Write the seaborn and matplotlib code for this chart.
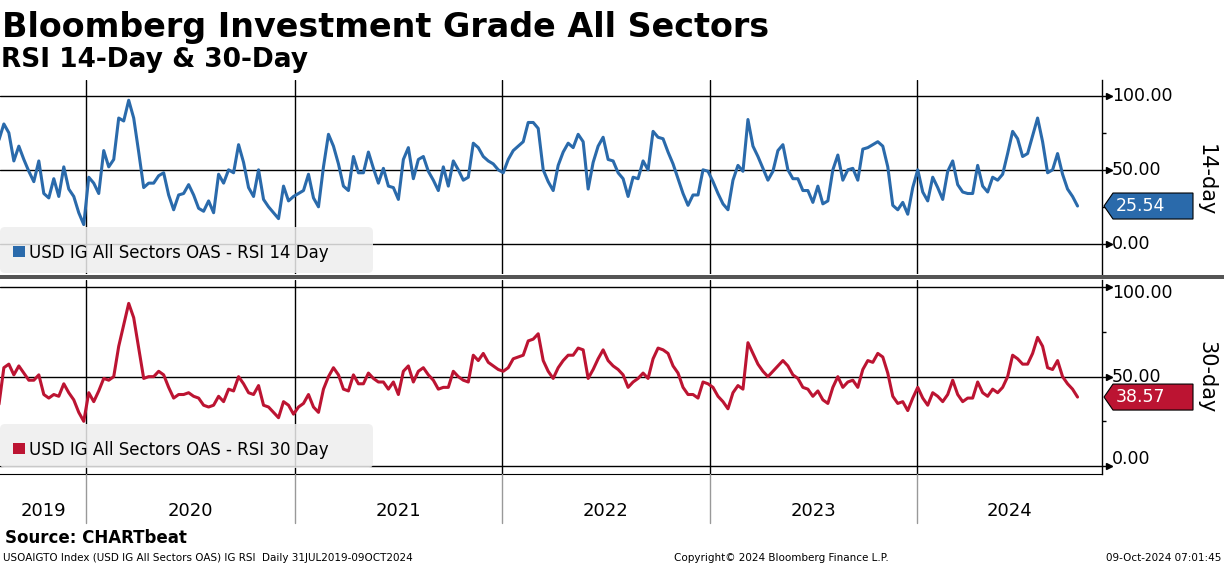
import matplotlib
matplotlib.use("Agg")
import matplotlib.pyplot as plt
import matplotlib.dates as mdates
import matplotlib.transforms as mtransforms
from matplotlib.patches import Rectangle, Polygon, FancyBboxPatch
from matplotlib.lines import Line2D
import pandas as pd
import seaborn as sns

# RSI values, evenly spaced from 31-Jul-2019 to 09-Oct-2024
rsi14 = [70, 81, 75, 56, 66, 57, 49, 42, 56, 34, 31, 44, 32, 52, 37, 32, 21, 13, 45, 41,
         34, 63, 52, 57, 85, 83, 97, 85, 62, 38, 41, 41, 46, 48, 33, 23, 33, 34, 40, 33,
         24, 22, 29, 21, 47, 41, 50, 48, 67, 55, 38, 32, 50, 30, 25, 21, 17, 39, 29, 32,
         34, 36, 47, 31, 25, 52, 74, 66, 54, 39, 36, 59, 48, 48, 62, 51, 41, 51, 39, 38,
         30, 57, 65, 44, 57, 59, 49, 43, 36, 52, 39, 56, 50, 43, 45, 68, 65, 59, 56, 54,
         50, 48, 57, 63, 66, 69, 82, 82, 78, 50, 42, 36, 53, 62, 68, 65, 74, 69, 37, 55,
         66, 72, 57, 56, 48, 44, 32, 45, 44, 56, 50, 76, 72, 71, 62, 54, 44, 34, 26, 33,
         33, 50, 49, 42, 34, 27, 23, 43, 53, 49, 84, 66, 59, 51, 43, 49, 63, 67, 50, 44,
         44, 36, 36, 28, 39, 27, 29, 50, 60, 43, 50, 51, 43, 64, 65, 67, 69, 66, 52, 26,
         23, 28, 20, 38, 50, 35, 29, 45, 38, 30, 49, 56, 40, 35, 34, 34, 53, 39, 35, 45,
         43, 47, 61, 76, 71, 59, 61, 73, 85, 69, 48, 50, 61, 47, 37, 32, 25.54]

rsi30 = [34, 55, 57, 51, 56, 52, 48, 48, 51, 40, 38, 40, 39, 46, 41, 37, 30, 25, 41, 36,
         42, 49, 48, 50, 67, 79, 91, 83, 66, 49, 50, 50, 53, 51, 44, 38, 40, 40, 41, 39,
         38, 34, 33, 34, 39, 36, 43, 42, 50, 46, 41, 40, 45, 34, 33, 30, 27, 36, 34, 29,
         33, 35, 40, 33, 30, 43, 50, 55, 51, 43, 42, 51, 46, 46, 52, 49, 47, 47, 43, 47,
         40, 53, 56, 47, 53, 55, 51, 48, 43, 44, 44, 53, 50, 48, 47, 62, 59, 63, 58, 56,
         54, 53, 55, 60, 61, 62, 70, 71, 74, 59, 53, 49, 55, 59, 62, 62, 66, 65, 49, 54,
         60, 65, 59, 56, 54, 51, 44, 47, 49, 52, 49, 60, 66, 65, 63, 56, 52, 44, 40, 40,
         38, 47, 46, 44, 39, 36, 32, 41, 45, 43, 69, 63, 57, 53, 50, 53, 56, 59, 56, 51,
         49, 44, 43, 39, 42, 37, 35, 44, 50, 44, 47, 48, 44, 54, 59, 58, 63, 61, 52, 39,
         35, 36, 31, 38, 44, 38, 34, 41, 39, 36, 40, 48, 40, 36, 38, 38, 47, 41, 39, 43,
         41, 44, 50, 62, 60, 57, 57, 63, 72, 67, 55, 54, 59, 50, 46, 43, 38.57]

years = [2019, 2020, 2021, 2022, 2023, 2024]
yticks = [0, 50, 100]

df = pd.DataFrame({
    "date": pd.date_range("2019-07-31", "2024-10-09", periods=len(rsi14)),
    "rsi14": rsi14,
    "rsi30": rsi30,
})

BLUE = "#2a6aab"
RED = "#bc1432"

sns.set_style("white")
plt.rcParams["font.family"] = ["DejaVu Sans"]
plt.rcParams["text.color"] = "black"
plt.rcParams["xtick.color"] = "black"
plt.rcParams["ytick.color"] = "black"

W, H = 1224, 566
fig = plt.figure(figsize=(W / 100, H / 100), dpi=100)
# pixel coords measured from the top-left corner
px = mtransforms.Affine2D().scale(0.01, -0.01).translate(0, H / 100) + fig.dpi_scale_trans

x_left = pd.Timestamp("2019-08-02")
x_right = pd.Timestamp("2024-11-21")

ax1 = fig.add_axes([0, 1 - 274 / H, 1102 / W, 194 / H])
ax2 = fig.add_axes([0, 1 - 474 / H, 1102 / W, 194 / H])


def draw_panel(ax, col, color, ylim, legend_text, legend_top, legend_bottom, tag, tag_y,
               label_shift):
    sns.lineplot(data=df, x="date", y=col, ax=ax, color=color, linewidth=2.2, zorder=4)
    ax.set_xlim(x_left, x_right)
    ax.set_ylim(*ylim)
    ax.set_xlabel("")
    ax.set_ylabel("")

    for side in ["top", "left", "bottom"]:
        ax.spines[side].set_visible(False)
    ax.spines["right"].set_color("black")
    ax.spines["right"].set_linewidth(1)

    ax.yaxis.tick_right()
    ax.set_yticks(yticks)
    ax.set_yticks([25, 75], minor=True)
    ax.tick_params(axis="y", which="major", length=7, width=1, color="black",
                   direction="out", labelright=False)
    ax.tick_params(axis="y", which="minor", length=3, width=1, color="black",
                   direction="out")
    ax.xaxis.set_major_locator(mdates.YearLocator())
    ax.tick_params(axis="x", which="both", length=0, labelbottom=False)
    ax.grid(True, which="major", color="black", linewidth=1)
    ax.set_axisbelow(True)

    # arrow heads at the right end of the gridlines
    ax.plot([1.0065] * 3, yticks, ls="none", marker=">", ms=4, color="black",
            transform=ax.get_yaxis_transform(), clip_on=False)

    # right-hand tick labels
    lab_trans = mtransforms.blended_transform_factory(px, ax.transData)
    for v in yticks:
        t = mtransforms.offset_copy(lab_trans, fig=fig, y=label_shift.get(v, 0), units="dots")
        fig.text(1112, v, f"{v:.2f}", transform=t, fontsize=12.5, va="center", ha="left")

    # last value box
    last = df[col].iloc[-1]
    yc = H - ax.transData.transform((0, last))[1]
    fig.add_artist(Polygon([(1104, yc), (1113, yc - 13), (1193, yc - 13),
                            (1193, yc + 13), (1113, yc + 13)],
                           closed=True, transform=px, fc=color, ec="black", lw=0.8))
    fig.text(1116, yc, f"{last:.2f}", transform=px, color="white", fontsize=12.5,
             va="center", ha="left")

    fig.text(1206, tag_y, tag, transform=px, rotation=-90, fontsize=15,
             ha="center", va="center")

    # legend box
    fig.add_artist(FancyBboxPatch((0, legend_top), 373, legend_bottom - legend_top,
                                  boxstyle="round,pad=0,rounding_size=5", transform=px,
                                  fc="#eeeeee", ec="none", alpha=0.85, zorder=5))
    fig.add_artist(Rectangle((13, legend_top + 19), 12, 11, transform=px, fc=color,
                             ec="none", zorder=6))
    fig.text(29, legend_top + 31, legend_text, transform=px, fontsize=12,
             va="baseline", ha="left", zorder=6)


draw_panel(ax1, "rsi14", BLUE, (-20.4, 110.7), "USD IG All Sectors OAS - RSI 14 Day",
           227, 273, "14-day", 180, {})
draw_panel(ax2, "rsi30", RED, (-4.5, 104.1), "USD IG All Sectors OAS - RSI 30 Day",
           424, 468, "30-day", 377, {100: -6, 0: 7})

# bottom axis line with quarterly ticks
ax2.spines["bottom"].set_visible(True)
ax2.spines["bottom"].set_color("black")
ax2.xaxis.set_minor_locator(mdates.MonthLocator(bymonth=[1, 4, 7, 10]))
ax2.tick_params(axis="x", which="both", length=4, width=1, color="black", direction="out")

# separator between the panels
fig.add_artist(Rectangle((0, 275), W, 4, transform=px, fc="#555555", ec="none"))

# year strip
year_trans = mtransforms.blended_transform_factory(ax2.transData, px)
for yr in years:
    start = max(pd.Timestamp(f"{yr}-01-01"), x_left)
    end = min(pd.Timestamp(f"{yr + 1}-01-01"), x_right)
    mid = start + (end - start) / 2
    fig.text(mdates.date2num(mid), 511, str(yr), transform=year_trans, fontsize=13,
             ha="center", va="center")
    if yr > years[0]:
        xd = mdates.date2num(pd.Timestamp(f"{yr}-01-01"))
        fig.add_artist(Line2D([xd, xd], [474, 523], transform=year_trans,
                              color="#999999", lw=1))

# titles
fig.text(2, 37, "Bloomberg Investment Grade All Sectors", transform=px, fontsize=24,
         fontweight="bold", va="baseline", ha="left")
fig.text(1, 67, "RSI 14-Day & 30-Day", transform=px, fontsize=19,
         fontweight="bold", va="baseline", ha="left")

# footer
fig.text(5, 543, "Source: CHARTbeat", transform=px, fontsize=12, fontweight="bold",
         va="baseline", ha="left")
fig.text(3, 561, "USOAIGTO Index (USD IG All Sectors OAS) IG RSI  Daily 31JUL2019-09OCT2024",
         transform=px, fontsize=7.5, va="baseline", ha="left")
fig.text(781, 561, "Copyright\u00a9 2024 Bloomberg Finance L.P.", transform=px,
         fontsize=7.5, va="baseline", ha="center")
fig.text(1221, 561, "09-Oct-2024 07:01:45", transform=px, fontsize=7.5,
         va="baseline", ha="right")

fig.savefig("out.png", dpi=100)
